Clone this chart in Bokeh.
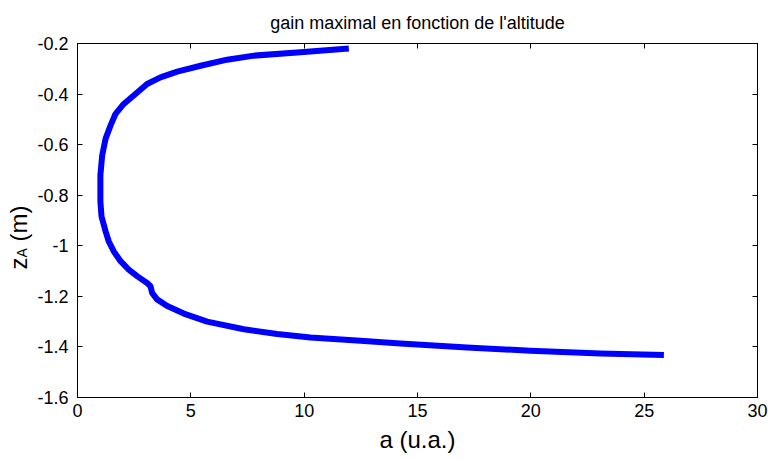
import math
from bokeh.plotting import figure
from bokeh.models import Range1d, FixedTicker, LinearAxis, Label
from bokeh.embed import file_html
from bokeh.resources import INLINE

# data
a_vals = [11.97, 9.84, 7.78, 6.60, 5.43, 4.40, 3.66, 3.07, 2.48, 2.04, 1.68, 1.46,
          1.24, 1.09, 1.01, 1.01, 1.01, 1.06, 1.24, 1.38, 1.60, 1.90, 2.26, 2.63,
          3.07, 3.22, 3.29, 3.51, 3.96, 4.69, 5.72, 7.34, 8.81, 10.28, 12.49,
          14.25, 17.19, 19.99, 23.07, 25.87]
z_vals = [-0.220, -0.235, -0.248, -0.264, -0.288, -0.311, -0.334, -0.360, -0.406,
          -0.439, -0.478, -0.524, -0.576, -0.642, -0.720, -0.799, -0.825, -0.884,
          -0.943, -0.983, -1.022, -1.061, -1.094, -1.120, -1.147, -1.160, -1.186,
          -1.212, -1.238, -1.268, -1.300, -1.330, -1.349, -1.363, -1.376, -1.386,
          -1.402, -1.415, -1.426, -1.432]

x_ticks = [0, 5, 10, 15, 20, 25, 30]
x_tick_labels = ["0", "5", "10", "15", "20", "25", "30"]
y_ticks = [-1.6, -1.4, -1.2, -1.0, -0.8, -0.6, -0.4, -0.2]
y_tick_labels = ["-1.6", "-1.4", "-1.2", "-1", "-0.8", "-0.6", "-0.4", "-0.2"]

title_text = "gain maximal en fonction de l'altitude"
x_label = "a (u.a.)"
y_label_main = "z"
y_label_sub = "A"
y_label_unit = "(m)"

FONT = "Liberation Sans"
SHIFT = 43  # hidden strip on the left of the canvas

p = figure(width=768 + SHIFT, height=459, output_backend="svg", toolbar_location=None,
           x_range=Range1d(0, 30), y_range=Range1d(-1.6, -0.2),
           min_border_left=77 + SHIFT, min_border_right=11, min_border_top=41,
           min_border_bottom=62, title=title_text)
p.styles = {"margin-left": f"-{SHIFT}px"}

p.title.align = "center"
p.title.text_font = FONT
p.title.text_font_size = "18px"
p.title.text_font_style = "normal"
p.title.text_color = "black"
p.title.standoff = 21

p.grid.visible = False
p.outline_line_color = "black"
p.outline_line_width = 1
p.background_fill_color = "white"
p.border_fill_color = "white"

for ax in p.xaxis + p.yaxis:
    ax.major_tick_in = 5
    ax.major_tick_out = 0
    ax.minor_tick_line_color = None
    ax.axis_line_color = "black"
    ax.major_tick_line_color = "black"
    ax.major_label_text_font = FONT
    ax.major_label_text_font_size = "18px"
    ax.major_label_text_color = "black"

p.xaxis.ticker = FixedTicker(ticks=x_ticks)
p.yaxis.ticker = FixedTicker(ticks=y_ticks)
p.xaxis.major_label_overrides = {t: l for t, l in zip(x_ticks, x_tick_labels)}
p.yaxis.major_label_overrides = {t: l for t, l in zip(y_ticks, y_tick_labels)}
p.xaxis.major_label_standoff = 6
p.yaxis.major_label_standoff = 9

p.xaxis.axis_label = x_label
p.xaxis.axis_label_text_font = FONT
p.xaxis.axis_label_text_font_size = "24px"
p.xaxis.axis_label_text_font_style = "normal"
p.xaxis.axis_label_text_color = "black"
p.xaxis.axis_label_standoff = 6

# box-style ticks on top and right (no labels)
top = LinearAxis(ticker=FixedTicker(ticks=x_ticks))
right = LinearAxis(ticker=FixedTicker(ticks=y_ticks))
for ax in (top, right):
    ax.major_tick_in = 5
    ax.major_tick_out = 0
    ax.minor_tick_line_color = None
    ax.axis_line_color = "black"
    ax.major_label_text_font_size = "1px"
    ax.major_label_text_color = None
    ax.major_label_standoff = 0
p.add_layout(top, "above")
p.add_layout(right, "right")

p.line(a_vals, z_vals, line_color="#0000FF", line_width=6, line_cap="butt",
       line_join="round")

# y label z_A (m), rotated, in canvas pixels, placed in the left panel
common = dict(x_units="canvas", y_units="canvas", angle=math.pi / 2,
              text_font=FONT, text_align="left", text_baseline="alphabetic",
              text_color="black", level="overlay")
p.add_layout(Label(x=18 + SHIFT, y=269, text=y_label_main, text_font_size="24px", **common), "left")
p.add_layout(Label(x=21 + SHIFT, y=257, text=y_label_sub, text_font_size="14px", **common), "left")
p.add_layout(Label(x=18 + SHIFT, y=241, text=y_label_unit, text_font_size="24px", **common), "left")

open("out.html", "w").write(file_html(p, INLINE))
